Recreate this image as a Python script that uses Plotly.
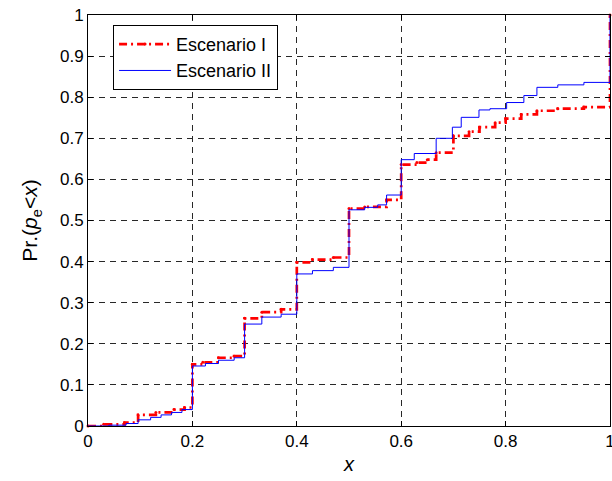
import plotly.graph_objects as go

# Escenario I (red, dash-dot with dot markers) - step CDF
x_I = [0, 0.03, 0.07, 0.096, 0.13, 0.165, 0.185, 0.2, 0.22, 0.25, 0.28, 0.3, 0.333, 0.37,
       0.4, 0.43, 0.47, 0.5, 0.53, 0.572, 0.6, 0.63, 0.65, 0.667, 0.7, 0.73, 0.75, 0.78,
       0.8, 0.83, 0.86, 0.9, 0.95, 1.0]
y_I = [0.0, 0.004, 0.008, 0.027, 0.033, 0.04, 0.045, 0.15, 0.155, 0.166, 0.17, 0.262, 0.277, 0.284,
       0.398, 0.405, 0.41, 0.529, 0.533, 0.55, 0.636, 0.641, 0.648, 0.665, 0.706, 0.716, 0.727, 0.738,
       0.748, 0.758, 0.767, 0.772, 0.776, 1.0]

# Escenario II (blue, solid) - step CDF
x_II = [0, 0.04, 0.073, 0.096, 0.12, 0.14, 0.16, 0.18, 0.2, 0.225, 0.25, 0.28, 0.3, 0.333, 0.37,
        0.4, 0.43, 0.47, 0.5, 0.53, 0.555, 0.572, 0.6, 0.625, 0.667, 0.698, 0.715, 0.749, 0.77,
        0.802, 0.835, 0.86, 0.9, 0.95, 1.0]
y_II = [0.0, 0.002, 0.006, 0.015, 0.021, 0.027, 0.033, 0.04, 0.146, 0.152, 0.16, 0.166, 0.248, 0.265, 0.272,
        0.37, 0.378, 0.386, 0.526, 0.532, 0.538, 0.562, 0.648, 0.663, 0.70, 0.727, 0.751, 0.769, 0.772,
        0.787, 0.804, 0.824, 0.83, 0.836, 1.0]

names = ["Escenario I", "Escenario II"]
x_ticks = [0, 0.2, 0.4, 0.6, 0.8, 1]
x_tick_labels = ["0", "0.2", "0.4", "0.6", "0.8", "1"]
y_ticks = [0, 0.1, 0.2, 0.3, 0.4, 0.5, 0.6, 0.7, 0.8, 0.9, 1]
y_tick_labels = ["0", "0.1", "0.2", "0.3", "0.4", "0.5", "0.6", "0.7", "0.8", "0.9", "1"]

FONT = "Liberation Sans, Arial, sans-serif"

fig = go.Figure()
fig.add_trace(go.Scatter(
    x=x_I, y=y_I, name=names[0], mode="lines+markers",
    line=dict(color="rgb(255,0,0)", width=2.7, dash="8px,4px,2px,4px", shape="hv"),
    marker=dict(color="rgb(255,0,0)", size=3, symbol="circle"),
    cliponaxis=False,
))
fig.add_trace(go.Scatter(
    x=x_II, y=y_II, name=names[1], mode="lines",
    line=dict(color="rgb(0,0,255)", width=1, shape="hv"),
    cliponaxis=False,
))

axis_common = dict(
    showline=True, linecolor="black", linewidth=1, mirror="ticks",
    ticks="inside", ticklen=5, tickcolor="black",
    showgrid=True, gridcolor="rgb(40,40,40)", gridwidth=1, griddash="6px,5px",
    zeroline=False, tickfont=dict(family=FONT, size=17, color="black"),
    ticklabeloverflow="allow",
)

fig.update_xaxes(range=[0, 1], tickvals=x_ticks, ticktext=x_tick_labels,
                 title=dict(text="<i>x</i>", font=dict(family=FONT, size=20, color="black"), standoff=6),
                 **axis_common)
fig.update_yaxes(range=[0, 1], tickvals=y_ticks, ticktext=y_tick_labels,
                 title=dict(text="Pr.(<i>p</i><sub>e</sub>&lt;<i>x</i>)",
                            font=dict(family=FONT, size=21, color="black"), standoff=16),
                 **axis_common)

fig.update_layout(
    width=612, height=481,
    margin=dict(l=88, r=2, t=15, b=55, autoexpand=False),
    paper_bgcolor="white", plot_bgcolor="white",
    font=dict(family=FONT, size=17, color="black"),
    showlegend=True,
    hovermode=False,
    legend=dict(x=0.048, y=0.976, xanchor="left", yanchor="top",
                bgcolor="white", bordercolor="black", borderwidth=1,
                font=dict(family=FONT, size=18, color="black"),
                itemwidth=52, tracegroupgap=0),
)

# remove the default page margin / scrollbars so the 612x481 figure fills the window exactly
page_fix = ("document.documentElement.style.overflow='hidden';"
            "document.body.style.margin='0';"
            "document.body.style.overflow='hidden';")

fig.write_html("out.html", post_script=page_fix, config={"displayModeBar": False})
